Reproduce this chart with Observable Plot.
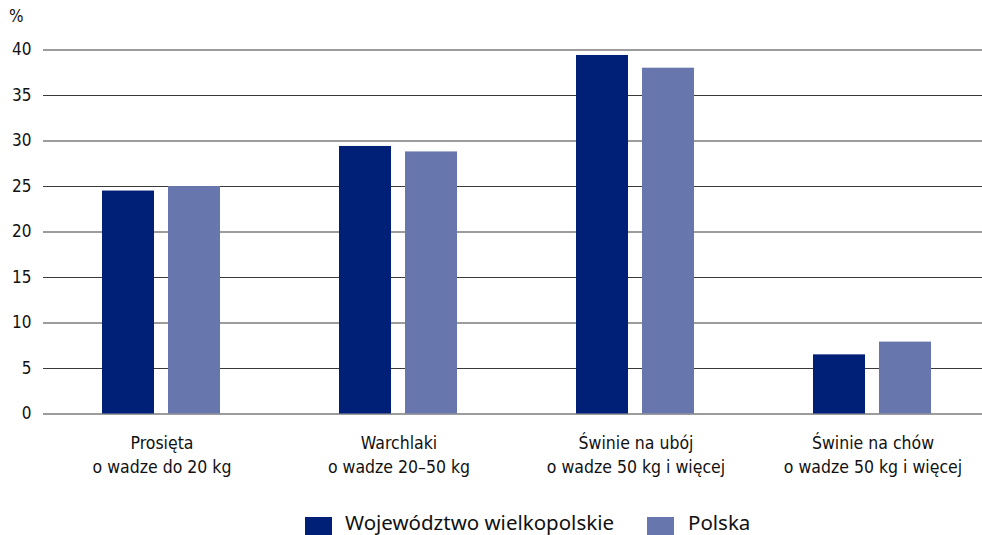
<!DOCTYPE html>
<html><head><meta charset="utf-8">
<script src="https://cdn.jsdelivr.net/npm/d3@7"></script>
<script src="https://cdn.jsdelivr.net/npm/@observablehq/plot@0.6"></script>
<style>
html,body{margin:0;padding:0;background:#fff;overflow:hidden;}
#wrap{position:relative;width:982px;height:535px;}
#pct{position:absolute;left:9px;top:6px;font:17px "DejaVu Sans Condensed","Liberation Sans Narrow",sans-serif;color:#111;}
#legend{position:absolute;left:0;top:509px;width:982px;height:26px;font:20.5px "Noto Sans",sans-serif;color:#111;}
.sw{position:absolute;top:8px;width:27px;height:20px;}
.lt{position:absolute;top:0px;line-height:26px;white-space:nowrap;}
</style></head>
<body><div id="wrap"><div id="chart"></div><div id="pct">%</div><div id="legend"></div></div>
<script>
const categories = ["Prosięta\no wadze do 20 kg", "Warchlaki\no wadze 20–50 kg", "Świnie na ubój\no wadze 50 kg i więcej", "Świnie na chów\no wadze 50 kg i więcej"];
const series = ["Województwo wielkopolskie", "Polska"];
const wielkopolskie = [24.5, 29.4, 39.4, 6.5];
const polska = [25.0, 28.8, 38.0, 7.9];
const yTicks = [0, 5, 10, 15, 20, 25, 30, 35, 40];
const colors = ["#001f77", "#6777ad"];

const data = [];
categories.forEach((c, i) => {
  data.push({cat: c, series: series[0], value: wielkopolskie[i]});
  data.push({cat: c, series: series[1], value: polska[i]});
});

const font = '"DejaVu Sans Condensed","Liberation Sans Narrow",sans-serif';
const plot = Plot.plot({
  width: 982,
  height: 480,
  marginLeft: 41,
  marginRight: 0,
  marginTop: 49.5,
  marginBottom: 66.5,
  style: {fontFamily: font, fontSize: "17px", color: "#111", background: "transparent"},
  fx: {domain: categories, range: [41, 992], paddingInner: 0, paddingOuter: 0, axis: null, label: null},
  x: {domain: series, paddingInner: 0.209, paddingOuter: 0.88, axis: null, label: null},
  y: {domain: [0, 40], ticks: yTicks, tickSize: 0, tickPadding: 12, label: null, tickFormat: d => String(d)},
  color: {domain: series, range: colors},
  marks: [
    Plot.ruleY(yTicks, {stroke: "#3a3a3a", strokeWidth: 1.2}),
    Plot.barY(data, {fx: "cat", x: "series", y: "value", fill: "series", inset: 0}),
    Plot.text(categories, {fx: d => d, text: d => d, frameAnchor: "bottom", lineAnchor: "top", dy: 18, lineHeight: 1.38, fontSize: 17.5, fill: "#111"})
  ]
});
document.getElementById("chart").appendChild(plot);

const legend = document.getElementById("legend");
const pos = [[305, 345], [647, 688]];
series.forEach((s, i) => {
  const sw = document.createElement("div");
  sw.className = "sw"; sw.style.left = pos[i][0] + "px"; sw.style.background = colors[i];
  const t = document.createElement("div");
  t.className = "lt"; t.style.left = pos[i][1] + "px"; t.textContent = s;
  legend.appendChild(sw); legend.appendChild(t);
});
</script></body></html>
